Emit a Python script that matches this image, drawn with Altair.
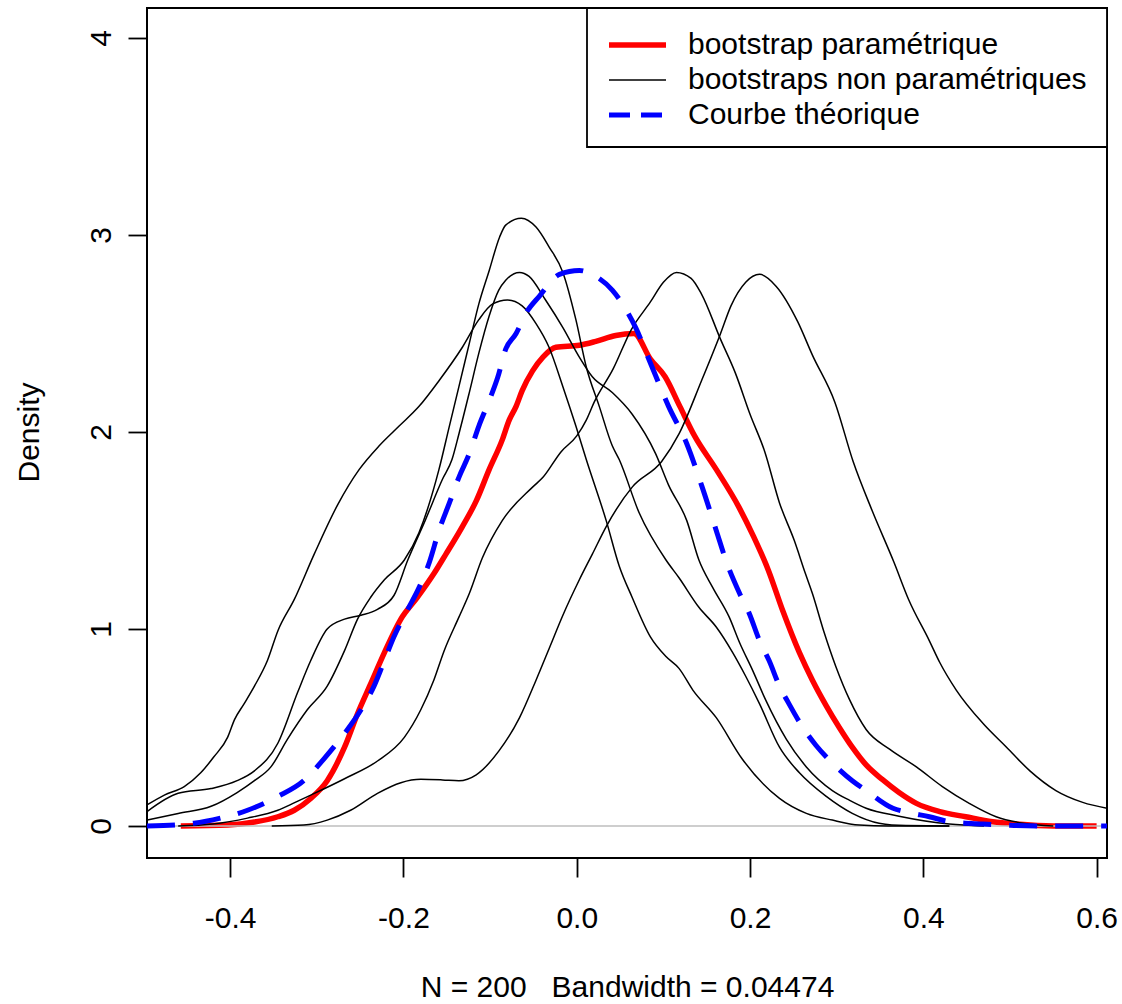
import altair as alt
import pandas as pd

FONT = "Liberation Sans, Arial, Helvetica, sans-serif"

# ---------------- axes / texts ----------------
x_ticks = [-0.4, -0.2, 0.0, 0.2, 0.4, 0.6]
y_ticks = [0, 1, 2, 3, 4]
x_domain = [-0.496, 0.612]
y_domain = [-0.1624, 4.152]
x_title = "N = 200\u00a0\u00a0 Bandwidth = 0.04474"
y_title = "Density"
legend_labels = ["bootstrap paramétrique", "bootstraps non paramétriques", "Courbe théorique"]

# ---------------- parametric bootstrap density (red) ----------------
param_x = [-0.457, -0.403, -0.372, -0.345, -0.326, -0.307, -0.288, -0.268, -0.253, -0.238,
           -0.222, -0.203, -0.184, -0.165, -0.151, -0.132, -0.116, -0.101, -0.086, -0.078,
           -0.070, -0.063, -0.051, -0.039, -0.024, 0.003, 0.022, 0.045, 0.066, 0.085,
           0.102, 0.119, 0.136, 0.161, 0.187, 0.204, 0.221, 0.238, 0.257, 0.272,
           0.288, 0.303, 0.318, 0.334, 0.353, 0.372, 0.392, 0.419, 0.449, 0.480,
           0.507, 0.55, 0.60]
param_y = [0.0, 0.005, 0.02, 0.047, 0.08, 0.14, 0.23, 0.40, 0.57, 0.72,
           0.88, 1.05, 1.16, 1.28, 1.38, 1.52, 1.65, 1.81, 1.96, 2.06,
           2.13, 2.21, 2.31, 2.38, 2.43, 2.44, 2.46, 2.49, 2.50, 2.37,
           2.28, 2.13, 1.98, 1.81, 1.62, 1.47, 1.30, 1.09, 0.88, 0.74,
           0.61, 0.50, 0.40, 0.31, 0.235, 0.17, 0.115, 0.073, 0.047, 0.022,
           0.01, 0.0, 0.0]

# ---------------- theoretical curve (blue dashed) ----------------
theo_x = [-0.496, -0.442, -0.411, -0.38, -0.345, -0.315, -0.292, -0.268, -0.249, -0.234,
          -0.222, -0.211, -0.195, -0.182, -0.170, -0.159, -0.147, -0.136, -0.124, -0.113,
          -0.101, -0.091, -0.082, -0.07, -0.059, -0.043, -0.020, 0.003, 0.022, 0.041,
          0.057, 0.068, 0.085, 0.106, 0.127, 0.144, 0.161, 0.172, 0.188, 0.199,
          0.211, 0.222, 0.234, 0.245, 0.261, 0.276, 0.295, 0.318, 0.334, 0.365,
          0.384, 0.407, 0.43, 0.469, 0.50, 0.55, 0.612]
theo_y = [0.0, 0.014, 0.04, 0.08, 0.15, 0.23, 0.34, 0.47, 0.59, 0.71,
          0.84, 0.96, 1.10, 1.21, 1.34, 1.50, 1.64, 1.77, 1.89, 2.03,
          2.16, 2.28, 2.42, 2.50, 2.60, 2.69, 2.80, 2.82, 2.79, 2.72,
          2.62, 2.53, 2.35, 2.13, 1.94, 1.73, 1.50, 1.35, 1.18, 1.08,
          0.94, 0.84, 0.71, 0.62, 0.50, 0.41, 0.32, 0.23, 0.18, 0.09,
          0.068, 0.047, 0.022, 0.01, 0.004, 0.0, 0.0]

# ---------------- non-parametric bootstrap densities (black) ----------------
np1_x = [-0.496, -0.46, -0.422, -0.392, -0.372, -0.353, -0.334, -0.311, -0.288, -0.268,
         -0.253, -0.238, -0.222, -0.199, -0.182, -0.159, -0.147, -0.136, -0.124, -0.113,
         -0.101, -0.089, -0.082, -0.064, -0.047, -0.032, -0.016, -0.001, 0.011, 0.026,
         0.041, 0.049, 0.072, 0.103, 0.118, 0.141, 0.161, 0.18, 0.195, 0.211,
         0.234, 0.257, 0.288, 0.318, 0.349, 0.38, 0.43]
np1_y = [0.03, 0.064, 0.10, 0.17, 0.23, 0.30, 0.44, 0.59, 0.71, 0.89,
         1.05, 1.16, 1.25, 1.35, 1.49, 1.81, 2.03, 2.23, 2.45, 2.65,
         2.82, 2.99, 3.05, 3.085, 3.04, 2.94, 2.81, 2.57, 2.33, 2.13,
         1.93, 1.86, 1.59, 1.35, 1.26, 1.11, 1.01, 0.88, 0.76, 0.62,
         0.40, 0.27, 0.15, 0.064, 0.014, 0.002, 0.0]

np2_x = [-0.496, -0.46, -0.422, -0.392, -0.372, -0.345, -0.322, -0.307, -0.288, -0.268,
         -0.249, -0.230, -0.211, -0.195, -0.175, -0.155, -0.144, -0.136, -0.124, -0.113,
         -0.101, -0.09, -0.082, -0.066, -0.055, -0.036, -0.016, 0.003, 0.018, 0.041,
         0.064, 0.091, 0.106, 0.127, 0.141, 0.157, 0.176, 0.188, 0.203, 0.218,
         0.242, 0.265, 0.295, 0.315, 0.334, 0.372, 0.43, 0.47]
np2_y = [0.073, 0.166, 0.19, 0.23, 0.28, 0.42, 0.68, 0.84, 1.00, 1.05,
         1.07, 1.10, 1.17, 1.35, 1.55, 1.76, 1.86, 1.99, 2.20, 2.40,
         2.59, 2.72, 2.77, 2.81, 2.79, 2.67, 2.53, 2.38, 2.28, 2.20,
         2.09, 1.89, 1.73, 1.55, 1.35, 1.21, 1.06, 0.93, 0.79, 0.64,
         0.44, 0.30, 0.18, 0.13, 0.09, 0.05, 0.01, 0.0]

np3_x = [-0.496, -0.476, -0.453, -0.434, -0.419, -0.403, -0.395, -0.384, -0.372, -0.357,
         -0.345, -0.326, -0.303, -0.276, -0.251, -0.228, -0.205, -0.182, -0.159, -0.132,
         -0.113, -0.097, -0.08, -0.063, -0.047, -0.032, -0.016, -0.001, 0.011, 0.034,
         0.049, 0.064, 0.085, 0.103, 0.118, 0.134, 0.161, 0.191, 0.234, 0.265,
         0.295, 0.326, 0.36, 0.43]
np3_y = [0.107, 0.157, 0.20, 0.27, 0.35, 0.45, 0.54, 0.62, 0.71, 0.84,
         0.99, 1.15, 1.38, 1.63, 1.81, 1.93, 2.03, 2.13, 2.26, 2.43,
         2.57, 2.65, 2.67, 2.64, 2.55, 2.43, 2.23, 2.03, 1.86, 1.55,
         1.32, 1.16, 0.96, 0.86, 0.80, 0.69, 0.55, 0.34, 0.14, 0.064,
         0.03, 0.005, 0.0, 0.0]

np4_x = [-0.46, -0.42, -0.38, -0.345, -0.325, -0.307, -0.268, -0.230, -0.199, -0.180,
         -0.165, -0.153, -0.136, -0.124, -0.109, -0.086, -0.051, -0.039, -0.018, 0.0,
         0.011, 0.020, 0.042, 0.063, 0.085, 0.100, 0.115, 0.132, 0.144, 0.166,
         0.183, 0.200, 0.217, 0.234, 0.251, 0.264, 0.272, 0.285, 0.299, 0.315,
         0.334, 0.361, 0.392, 0.422, 0.453, 0.484, 0.515, 0.55]
np4_y = [0.0, 0.01, 0.04, 0.08, 0.12, 0.157, 0.24, 0.33, 0.45, 0.59,
         0.74, 0.89, 1.06, 1.18, 1.36, 1.55, 1.72, 1.77, 1.90, 1.98,
         2.06, 2.15, 2.32, 2.52, 2.66, 2.76, 2.81, 2.78, 2.70, 2.47,
         2.30, 2.09, 1.90, 1.64, 1.45, 1.28, 1.18, 0.99, 0.81, 0.64,
         0.49, 0.39, 0.30, 0.20, 0.115, 0.047, 0.014, 0.0]

np5_x = [-0.352, -0.315, -0.288, -0.261, -0.23, -0.203, -0.18, -0.155, -0.136, -0.116,
         -0.09, -0.066, -0.047, -0.031, -0.016, 0.003, 0.018, 0.034, 0.064, 0.098,
         0.118, 0.144, 0.166, 0.178, 0.195, 0.211, 0.230, 0.255, 0.272, 0.298,
         0.319, 0.341, 0.366, 0.383, 0.407, 0.419, 0.438, 0.469, 0.496, 0.523,
         0.553, 0.584, 0.612]
np5_y = [0.0, 0.005, 0.03, 0.08, 0.166, 0.22, 0.237, 0.234, 0.23, 0.26,
         0.38, 0.55, 0.74, 0.91, 1.07, 1.25, 1.38, 1.52, 1.72, 1.85,
         1.99, 2.26, 2.50, 2.64, 2.76, 2.80, 2.74, 2.56, 2.39, 2.15,
         1.85, 1.60, 1.34, 1.15, 0.94, 0.83, 0.69, 0.52, 0.40, 0.28,
         0.18, 0.12, 0.09]


def frame(xs, ys, name):
    assert len(xs) == len(ys), name
    return pd.DataFrame({"x": xs, "y": ys, "curve": name})


red_df = frame(param_x, param_y, "param")
blue_df = frame(theo_x, theo_y, "theo")
black_df = pd.concat([
    frame(np1_x, np1_y, "np1"),
    frame(np2_x, np2_y, "np2"),
    frame(np3_x, np3_y, "np3"),
    frame(np4_x, np4_y, "np4"),
    frame(np5_x, np5_y, "np5"),
], ignore_index=True)
zero_df = pd.DataFrame({"y": [0.0]})
one_df = pd.DataFrame({"k": [0]})

W, H = 960, 850

x_axis = alt.Axis(
    values=x_ticks, title=x_title,
    labelExpr="replace(format(datum.value, '.1f'), '\u2212', '-')",
    labelPadding=50, labelBaseline="alphabetic", labelAlign="center",
    labelFlush=False, labelOverlap=False,
    titleX=W / 2, titleY=138, titleBaseline="alphabetic", titleAlign="center",
)
y_axis = alt.Axis(
    values=y_ticks, title=y_title, format="d",
    labelPadding=18, labelAngle=270, labelAlign="center", labelBaseline="alphabetic",
    labelFlush=False, labelOverlap=False,
    titleAngle=270, titleX=-108.5, titleY=424, titleAlign="center", titleBaseline="alphabetic",
)
x_enc = alt.X("x:Q", scale=alt.Scale(domain=x_domain, nice=False, zero=False), axis=x_axis)
y_enc = alt.Y("y:Q", scale=alt.Scale(domain=y_domain, nice=False, zero=False), axis=y_axis)

red = alt.Chart(red_df).mark_line(color="#FF0000", strokeWidth=5.5, interpolate="monotone",
                                  clip=True, strokeJoin="round").encode(x=x_enc, y=y_enc)
zero_line = alt.Chart(zero_df).mark_rule(color="#BEBEBE", strokeWidth=1.5).encode(y=y_enc)
black = alt.Chart(black_df).mark_line(color="black", strokeWidth=1.5, interpolate="monotone",
                                      clip=True).encode(x=x_enc, y=y_enc, detail="curve:N")
blue = alt.Chart(blue_df).mark_line(color="#0000FF", strokeWidth=5, interpolate="monotone",
                                   strokeDash=[28, 18], strokeCap="butt", clip=True).encode(x=x_enc, y=y_enc)

# ---------------- legend (drawn inside the plot, top right) ----------------
leg_left, leg_right, leg_top, leg_bottom = 440, W, 0, 139
row0, row_step = 37, 35
seg_x1, seg_x2, text_x = 462, 519, 541

legend_box = alt.Chart(one_df).mark_rect(fill="white", stroke="black", strokeWidth=1.8).encode(
    x=alt.value(leg_left), x2=alt.value(leg_right), y=alt.value(leg_top), y2=alt.value(leg_bottom))
leg_styles = [
    dict(color="#FF0000", strokeWidth=5.5),
    dict(color="black", strokeWidth=1.5),
    dict(color="#0000FF", strokeWidth=5, strokeDash=[21, 11], strokeCap="butt"),
]
leg_layers = [legend_box]
for i, (lab, st) in enumerate(zip(legend_labels, leg_styles)):
    yy = row0 + i * row_step
    leg_layers.append(alt.Chart(one_df).mark_rule(**st).encode(
        x=alt.value(seg_x1), x2=alt.value(seg_x2), y=alt.value(yy)))
    leg_layers.append(alt.Chart(one_df).mark_text(
        text=lab, align="left", baseline="middle", font=FONT, fontSize=30, color="black").encode(
        x=alt.value(text_x), y=alt.value(yy)))

chart = alt.layer(red, zero_line, black, blue, *leg_layers).properties(
    width=W, height=H,
    padding={"left": 147, "top": 8, "right": 15, "bottom": 146},
    autosize=alt.AutoSizeParams(type="none"),
    background="white",
).configure_view(
    stroke="black", strokeWidth=2
).configure_axis(
    domain=False, grid=False, ticks=True, tickColor="black", tickWidth=1.8, tickSize=19,
    labelFont=FONT, labelFontSize=30, labelColor="black",
    titleFont=FONT, titleFontSize=30, titleFontWeight="normal", titleColor="black",
)

chart.save("out.html", embed_options={"renderer": "svg", "actions": False})
